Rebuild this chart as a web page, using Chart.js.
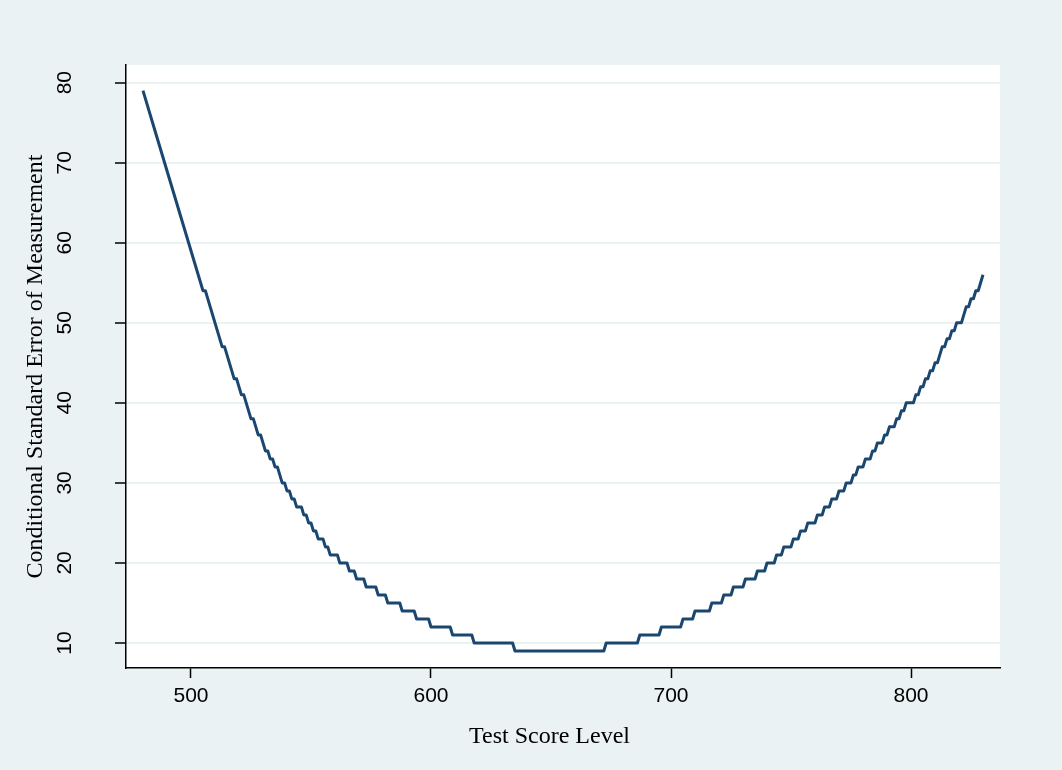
<!DOCTYPE html>
<html>
<head>
<meta charset="utf-8">
<script src="https://cdn.jsdelivr.net/npm/chart.js@4.4.1/dist/chart.umd.min.js"></script>
<style>
  html, body { margin: 0; padding: 0; background: #eaf2f3; }
  canvas { display: block; }
</style>
</head>
<body>
<canvas id="csemChart" width="1062" height="770"></canvas>
<script>
// --- 1. DATOS ---
// score level and conditional SEM (ends of each flat step)
const scores = [
  480, 484, 489, 494, 499, 505, 506, 510, 513, 514, 518, 519, 521, 522, 523, 524,
  525, 526, 527, 528, 529, 530, 531, 532, 533, 534, 535, 536, 537, 538, 539, 540,
  541, 542, 543, 544, 546, 547, 548, 549, 550, 551, 552, 553, 555, 556, 557, 558,
  561, 562, 565, 566, 568, 569, 572, 573, 577, 578, 581, 582, 587, 588, 593, 594,
  599, 600, 608, 609, 617, 618, 634, 635, 672, 673, 686, 687, 695, 696, 704, 705,
  709, 710, 716, 717, 721, 722, 725, 726, 730, 731, 735, 736, 739, 740, 743, 744,
  746, 747, 750, 751, 753, 754, 756, 757, 760, 761, 763, 764, 766, 767, 769, 770,
  772, 773, 775, 776, 777, 778, 780, 781, 783, 784, 785, 786, 788, 789, 790, 791,
  793, 794, 795, 796, 797, 798, 801, 802, 803, 804, 805, 806, 807, 808, 809, 810,
  811, 812, 813, 814, 815, 816, 817, 818, 819, 821, 822, 823, 824, 825, 826, 827,
  828, 829, 830
];
const csem = [
  79, 75, 70, 65, 60, 54, 54, 50, 47, 47, 43, 43, 41, 41, 40, 39,
  38, 38, 37, 36, 36, 35, 34, 34, 33, 33, 32, 32, 31, 30, 30, 29,
  29, 28, 28, 27, 27, 26, 26, 25, 25, 24, 24, 23, 23, 22, 22, 21,
  21, 20, 20, 19, 19, 18, 18, 17, 17, 16, 16, 15, 15, 14, 14, 13,
  13, 12, 12, 11, 11, 10, 10, 9, 9, 10, 10, 11, 11, 12, 12, 13,
  13, 14, 14, 15, 15, 16, 16, 17, 17, 18, 18, 19, 19, 20, 20, 21,
  21, 22, 22, 23, 23, 24, 24, 25, 25, 26, 26, 27, 27, 28, 28, 29,
  29, 30, 30, 31, 31, 32, 32, 33, 33, 34, 34, 35, 35, 36, 36, 37,
  37, 38, 38, 39, 39, 40, 40, 41, 41, 42, 42, 43, 43, 44, 44, 45,
  45, 46, 47, 47, 48, 48, 49, 49, 50, 50, 51, 52, 52, 53, 53, 54,
  54, 55, 56
];
const xTicks = [500, 600, 700, 800];
const yTicks = [10, 20, 30, 40, 50, 60, 70, 80];

const xTitle = 'Test Score Level';
const yTitle = 'Conditional Standard Error of Measurement';

// --- 2. ESTILO ---
const BG = '#eaf2f3';
const LINE_COLOR = '#1a476f';
const AXIS_COLOR = '#000000';
const SANS = '"Liberation Sans", Arial, sans-serif';
const SERIF = '"Liberation Serif", "Times New Roman", serif';

// white plot region + texts the axes can't place the Stata way
const textosEjes = {
  id: 'textosEjes',
  beforeDraw(chart) {
    const { ctx, chartArea: a } = chart;
    ctx.save();
    ctx.fillStyle = BG;
    ctx.fillRect(0, 0, chart.width, chart.height);
    ctx.fillStyle = '#ffffff';
    ctx.fillRect(a.left, a.top, a.right - a.left, a.bottom - a.top);
    ctx.restore();
  },
  afterDraw(chart) {
    const { ctx, chartArea: a } = chart;
    const y = chart.scales.y;
    ctx.save();
    ctx.fillStyle = AXIS_COLOR;
    ctx.textAlign = 'center';
    ctx.textBaseline = 'middle';

    // y tick labels, rotated
    ctx.font = `21px ${SANS}`;
    yTicks.forEach(v => {
      ctx.save();
      ctx.translate(65, y.getPixelForValue(v));
      ctx.rotate(-Math.PI / 2);
      ctx.fillText(String(v), 0, 0);
      ctx.restore();
    });

    // axis titles
    ctx.font = `24px ${SERIF}`;
    ctx.save();
    ctx.translate(36, (a.top + a.bottom) / 2);
    ctx.rotate(-Math.PI / 2);
    ctx.fillText(yTitle, 0, 0);
    ctx.restore();

    ctx.fillText(xTitle, 549.5, 737);
    ctx.restore();
  }
};

// --- 3. GRAFICO ---
const puntos = scores.map((s, i) => ({ x: s, y: csem[i] }));

new Chart(document.getElementById('csemChart'), {
  type: 'line',
  data: {
    datasets: [{
      data: puntos,
      borderColor: LINE_COLOR,
      borderWidth: 3,
      borderJoinStyle: 'round',
      pointRadius: 0,
      tension: 0,
      fill: false
    }]
  },
  options: {
    responsive: false,
    animation: false,
    layout: { padding: { top: 65, right: 62, left: 0, bottom: 0 } },
    plugins: {
      legend: { display: false },
      tooltip: { enabled: false }
    },
    scales: {
      x: {
        type: 'linear',
        min: 472.92,
        max: 837.08,
        afterBuildTicks: s => { s.ticks = xTicks.map(v => ({ value: v })); },
        afterFit: s => { s.height = 102; },
        grid: {
          drawOnChartArea: false,
          drawTicks: true,
          tickLength: 10,
          tickColor: AXIS_COLOR,
          tickWidth: 1.5
        },
        border: { display: true, color: AXIS_COLOR, width: 1.5 },
        ticks: {
          color: AXIS_COLOR,
          font: { family: SANS, size: 21 },
          padding: 6,
          maxRotation: 0
        }
      },
      y: {
        type: 'linear',
        min: 6.875,
        max: 82.21,
        afterBuildTicks: s => { s.ticks = yTicks.map(v => ({ value: v })); },
        afterFit: s => { s.width = 126; },
        grid: {
          color: BG,
          lineWidth: 2,
          drawTicks: true,
          tickLength: 11,
          tickColor: AXIS_COLOR,
          tickWidth: 1.5
        },
        border: { display: true, color: AXIS_COLOR, width: 1.5 },
        ticks: { display: false }
      }
    }
  },
  plugins: [textosEjes]
});
</script>
</body>
</html>
